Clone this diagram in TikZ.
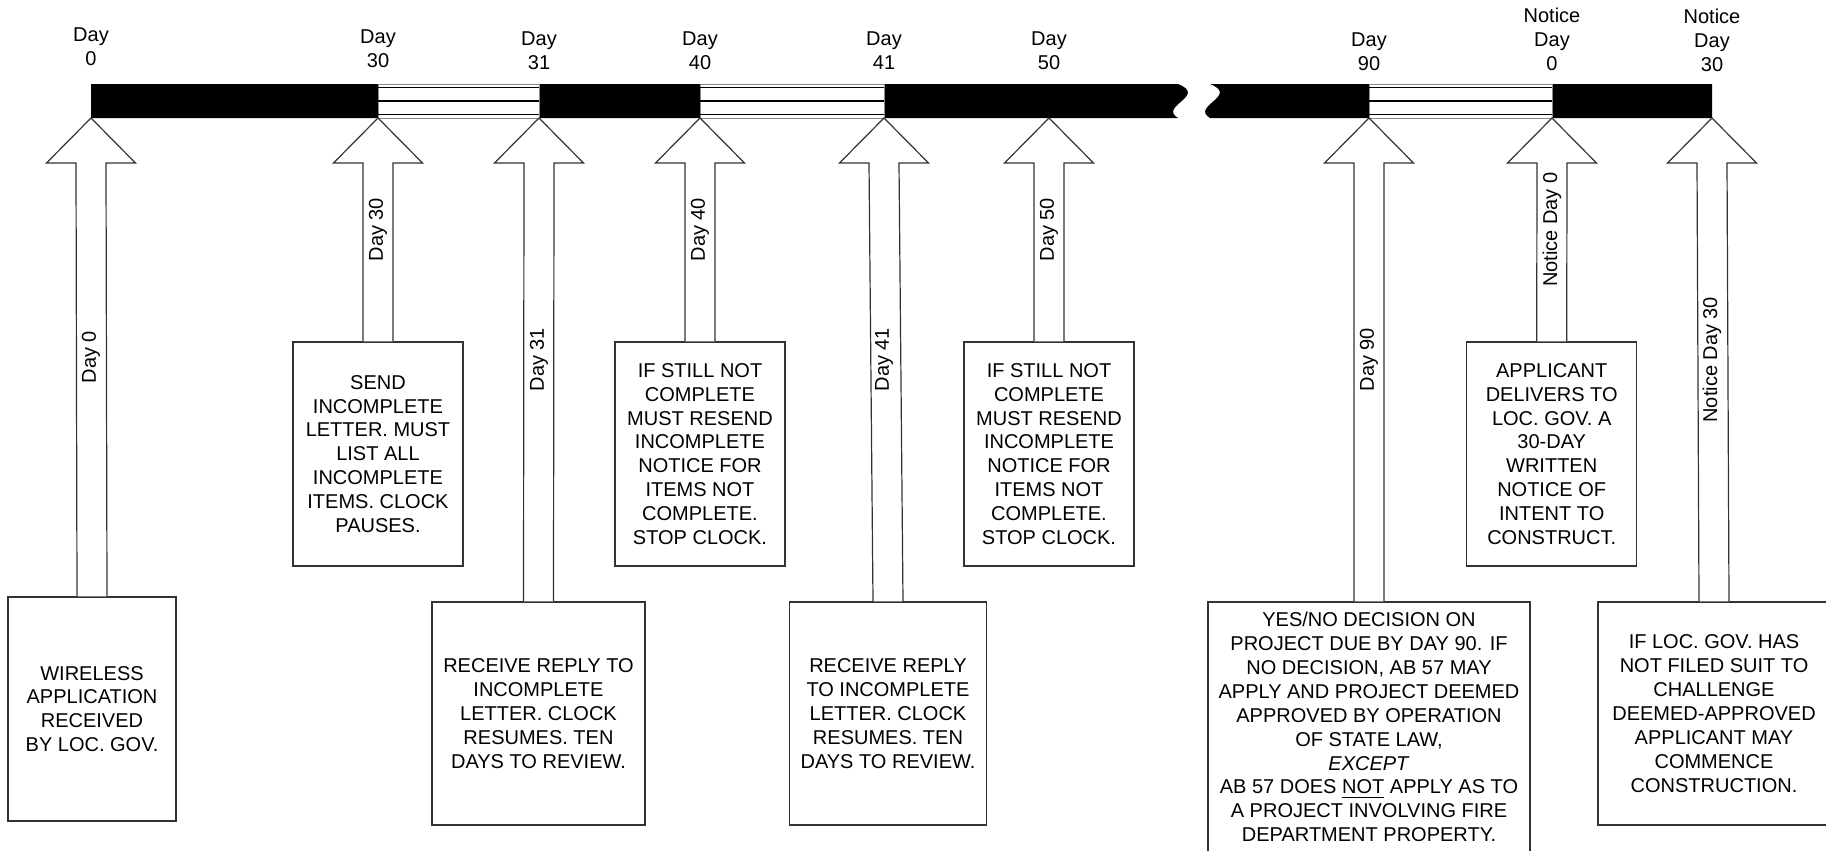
\documentclass[tikz,border=0pt]{standalone}
\usepackage{fontspec}
\setmainfont{Liberation Sans}
\usetikzlibrary{calc,positioning}

% block arrow from a box up to its tick on the time bar
\newcommand{\dayarrow}[3]{%
  \draw[blk] ($(#1.north)+(-15,0)$) -- ($(#2)+(-15,45)$) -- ($(#2)+(-44.5,45)$) -- (#2)
    -- ($(#2)+(44.5,45)$) -- ($(#2)+(15,45)$) -- ($(#1.north)+(15,0)$);
  \node[rotate=90, inner sep=0pt] at ($(#1.north -| #2)!0.5!(#2)$) {#3};}

\begin{document}
\begin{tikzpicture}[x=0.5pt,y=-0.5pt,font=\fontsize{10}{11.95}\selectfont]
\tikzstyle{notebox}=[draw=black!80, line width=0.6pt, align=center, inner sep=0pt,
 minimum width=85pt, minimum height=112pt]
\tikzstyle{blk}=[draw=black!80, fill=white, line width=0.6pt]
\tikzstyle{toplbl}=[align=center, anchor=south, inner sep=0pt]
\tikzstyle{hatch}=[draw=black!45, fill=white, line width=0.5pt]

\useasboundingbox (0,0) rectangle (1826,851);

%ticks on the time bar
\coordinate (t0) at (91,118);
\coordinate (t30) at (378,118);
\coordinate (t31) at (539,118);
\coordinate (t40) at (700,118);
\coordinate (t41) at (884,118);
\coordinate (t50) at (1049,118);
\coordinate (t90) at (1369,118);
\coordinate (n0) at (1552,118);
\coordinate (n30) at (1712,118);

%time bar with break
\fill (91,84) -- (1178,84) .. controls (1208,96) and (1158,106) .. (1178,118) -- (91,118) -- cycle;
\fill (1210,84) .. controls (1240,96) and (1190,106) .. (1210,118) -- (1712,118) -- (1712,84) -- cycle;
\foreach \a/\b in {378/539, 700/884, 1369/1552} {
  \draw[hatch] (\a,84) rectangle (\b,118);
  \draw[line width=0.6pt] (\a,87.5) -- (\b,87.5) (\a,101) -- (\b,101) (\a,114.5) -- (\b,114.5);
}

%labels above the bar
\node[toplbl] (l0) at (91,66) {Day\\0};
\node[toplbl] (l30) at (378,68) {Day\\30};
\node[toplbl] (l31) at (539,70) {Day\\31};
\node[toplbl] (l40) at (700,70) {Day\\40};
\node[toplbl] (l41) at (884,70) {Day\\41};
\node[toplbl] (l50) at (1049,70) {Day\\50};
\node[toplbl] (l90) at (1369,71) {Day\\90};
\node[toplbl] (ln0) at (1552,71) {Notice\\Day\\0};
\node[toplbl] (ln30) at (1712,72) {Notice\\Day\\30};

%boxes
\node[notebox, minimum width=84pt] (b0) at (92,709) {WIRELESS\\APPLICATION\\RECEIVED\\BY LOC. GOV.};
\node[notebox] (b30) at (378,454) {SEND\\INCOMPLETE\\LETTER. MUST\\LIST ALL\\INCOMPLETE\\ITEMS. CLOCK\\PAUSES.};
\node[notebox, minimum width=106.5pt, minimum height=111.5pt] (b31) at (538.5,713.5)
 {RECEIVE REPLY TO\\INCOMPLETE\\LETTER. CLOCK\\RESUMES. TEN\\DAYS TO REVIEW.};
\node[notebox] (b40) at (700,454) {IF STILL NOT\\COMPLETE\\MUST RESEND\\INCOMPLETE\\NOTICE FOR\\ITEMS NOT\\COMPLETE.\\STOP CLOCK.};
\node[notebox, minimum width=98.5pt, minimum height=111.5pt] (b41) at (888,713.5)
 {RECEIVE REPLY\\TO INCOMPLETE\\LETTER. CLOCK\\RESUMES. TEN\\DAYS TO REVIEW.};
\node[notebox] (b50) at (1049,454) {IF STILL NOT\\COMPLETE\\MUST RESEND\\INCOMPLETE\\NOTICE FOR\\ITEMS NOT\\COMPLETE.\\STOP CLOCK.};
\node[notebox, minimum width=161pt, minimum height=125pt] (b90) at (1369,727)
 {YES/NO DECISION ON\\PROJECT DUE BY DAY 90. IF\\NO DECISION, AB 57 MAY\\APPLY AND PROJECT DEEMED\\APPROVED BY OPERATION\\OF STATE LAW,\\\textit{EXCEPT}\\AB 57 DOES \underline{NOT} APPLY AS TO\\A PROJECT INVOLVING FIRE\\DEPARTMENT PROPERTY.};
\node[notebox] (bn0) at (1551.7,454) {APPLICANT\\DELIVERS TO\\LOC. GOV. A\\30-DAY\\WRITTEN\\NOTICE OF\\INTENT TO\\CONSTRUCT.};
\node[notebox, minimum width=116pt, minimum height=111.5pt] (bn30) at (1714,713.5)
 {IF LOC. GOV. HAS\\NOT FILED SUIT TO\\CHALLENGE\\DEEMED-APPROVED\\APPLICANT MAY\\COMMENCE\\CONSTRUCTION.};

%arrows up to the bar
\dayarrow{b0}{t0}{Day 0}
\dayarrow{b30}{t30}{Day 30}
\dayarrow{b31}{t31}{Day 31}
\dayarrow{b40}{t40}{Day 40}
\dayarrow{b41}{t41}{Day 41}
\dayarrow{b50}{t50}{Day 50}
\dayarrow{b90}{t90}{Day 90}
\dayarrow{bn0}{n0}{Notice Day 0}
\dayarrow{bn30}{n30}{Notice Day 30}

\end{tikzpicture}
\end{document}
